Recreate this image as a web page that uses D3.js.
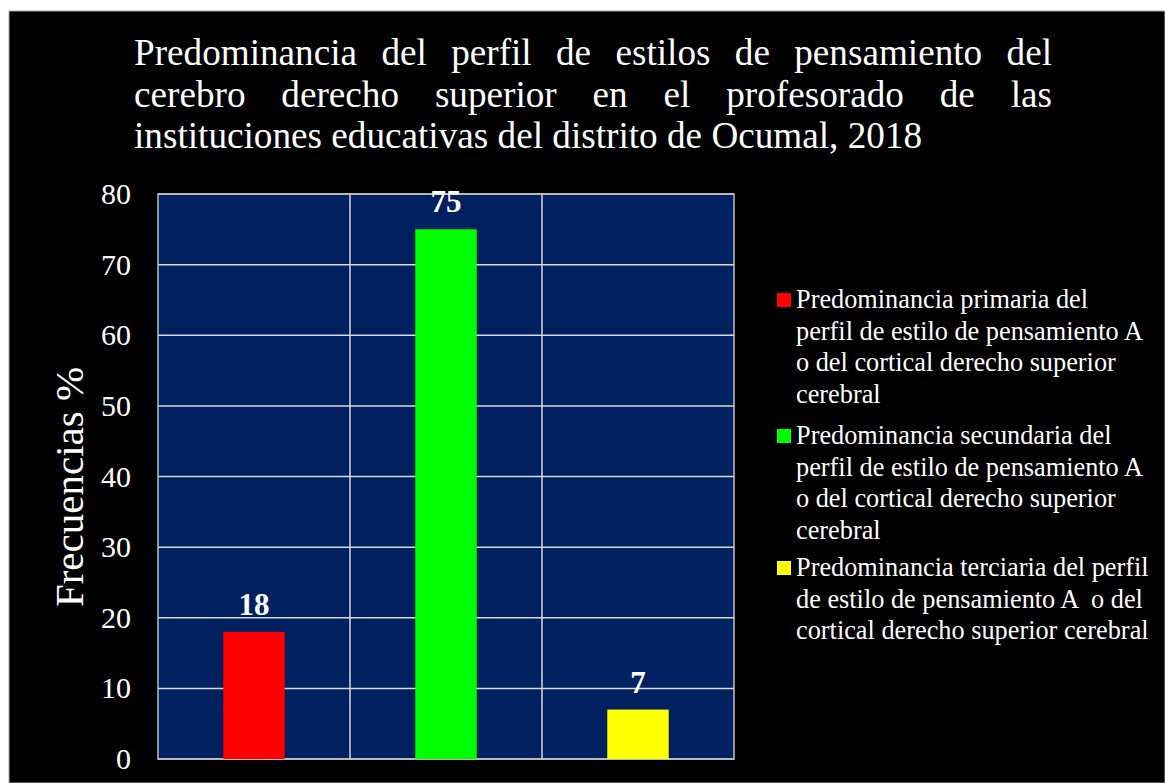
<!DOCTYPE html>
<html>
<head>
<meta charset="utf-8">
<script src="https://cdn.jsdelivr.net/npm/d3@7"></script>
<style>
  html, body { margin: 0; padding: 0; background: #fff; }
  svg text { font-family: "Liberation Serif", "Times New Roman", serif; }
</style>
</head>
<body>
<div id="graph"></div>
<script>
const categories = ["primaria", "secundaria", "terciaria"];
const values = [18, 75, 7];
const barColors = ["#ff0000", "#00ff00", "#ffff00"];
const yTicks = [0, 10, 20, 30, 40, 50, 60, 70, 80];
const titleLines = [
    "Predominancia del perfil de estilos de pensamiento del",
    "cerebro derecho superior en el profesorado de las",
    "instituciones educativas del distrito de Ocumal, 2018"
];
const legendLines = [
    ["Predominancia primaria del", "perfil de estilo de pensamiento A", "o del cortical derecho superior", "cerebral"],
    ["Predominancia secundaria del", "perfil de estilo de pensamiento A", "o del cortical derecho superior", "cerebral"],
    ["Predominancia terciaria del perfil", "de estilo de pensamiento A  o del", "cortical derecho superior cerebral"]
];
const yTitle = "Frecuencias %";

const width = 1165, height = 783;
const plot = { left: 158, top: 194, right: 734, bottom: 759 };

const svg = d3.select("#graph").append("svg")
    .attr("width", width)
    .attr("height", height);

// background frame
svg.append("rect")
    .attr("x", 9).attr("y", 11)
    .attr("width", width - 9).attr("height", height - 11)
    .attr("fill", "#000")
    .attr("stroke", "#a6a6a6")
    .attr("stroke-width", 1);

const xScale = d3.scaleBand()
    .domain(categories)
    .range([plot.left, plot.right]);

const yScale = d3.scaleLinear()
    .domain([0, 80])
    .range([plot.bottom, plot.top]);

// plot area
svg.append("rect")
    .attr("x", plot.left).attr("y", plot.top)
    .attr("width", plot.right - plot.left)
    .attr("height", plot.bottom - plot.top)
    .attr("fill", "#002060");

// horizontal grid
svg.append("g")
    .selectAll("line")
    .data(yTicks)
    .enter().append("line")
    .attr("x1", plot.left).attr("x2", plot.right)
    .attr("y1", d => yScale(d)).attr("y2", d => yScale(d))
    .attr("stroke", "#d9d9d9")
    .attr("stroke-width", 1.5);

// vertical grid at category boundaries
svg.append("g")
    .selectAll("line")
    .data(categories.slice(1))
    .enter().append("line")
    .attr("x1", d => xScale(d)).attr("x2", d => xScale(d))
    .attr("y1", plot.top).attr("y2", plot.bottom)
    .attr("stroke", "#d9d9d9")
    .attr("stroke-width", 1.5);

// plot border
svg.append("rect")
    .attr("x", plot.left).attr("y", plot.top)
    .attr("width", plot.right - plot.left)
    .attr("height", plot.bottom - plot.top)
    .attr("fill", "none")
    .attr("stroke", "#bfbfbf")
    .attr("stroke-width", 1.5);

// y axis labels
const yAxis = d3.axisLeft(yScale)
    .tickValues(yTicks)
    .tickSize(0)
    .tickPadding(27);
const yG = svg.append("g")
    .attr("transform", "translate(" + plot.left + ",0)")
    .call(yAxis);
yG.select(".domain").remove();
yG.selectAll("text")
    .attr("fill", "#fff")
    .attr("font-size", 30)
    .attr("font-family", "Liberation Serif, Times New Roman, serif");

// y title
svg.append("text")
    .attr("transform", "translate(83,487) rotate(-90)")
    .attr("text-anchor", "middle")
    .attr("fill", "#fff")
    .attr("font-size", 41)
    .text(yTitle);

// bars
const barWidth = xScale.bandwidth() * 0.32;
svg.append("g")
    .selectAll("rect")
    .data(values)
    .enter().append("rect")
    .attr("x", (d, i) => xScale(categories[i]) + xScale.bandwidth() / 2 - barWidth / 2)
    .attr("y", d => yScale(d))
    .attr("width", barWidth)
    .attr("height", d => yScale(0) - yScale(d))
    .attr("fill", (d, i) => barColors[i]);

// value labels
svg.append("g")
    .selectAll("text")
    .data(values)
    .enter().append("text")
    .attr("x", (d, i) => xScale(categories[i]) + xScale.bandwidth() / 2)
    .attr("y", d => yScale(d) - 17)
    .attr("text-anchor", "middle")
    .attr("fill", "#fff")
    .attr("font-size", 31)
    .attr("font-weight", "bold")
    .text(d => d);

// title, justified except the last line
const titleLeft = 134, titleRight = 1052;
titleLines.forEach((line, li) => {
    const y = 65 + li * 41.5;
    const words = line.split(" ");
    const g = svg.append("g");
    const nodes = words.map(w => g.append("text")
        .attr("y", y)
        .attr("fill", "#fff")
        .attr("font-size", 37.2)
        .text(w));
    const widths = nodes.map(n => n.node().getComputedTextLength());
    const total = d3.sum(widths);
    const last = li === titleLines.length - 1;
    const space = last ? 37.2 * 0.25 : (titleRight - titleLeft - total) / (words.length - 1);
    let x = titleLeft;
    nodes.forEach((n, i) => {
        n.attr("x", x);
        x += widths[i] + space;
    });
});

// legend
const legendStarts = [308, 444, 576];
legendLines.forEach((lines, i) => {
    const g = svg.append("g");
    g.append("rect")
        .attr("x", 777).attr("y", legendStarts[i] - 15)
        .attr("width", 14).attr("height", 14)
        .attr("fill", barColors[i]);
    lines.forEach((t, j) => {
        g.append("text")
            .attr("x", 796)
            .attr("y", legendStarts[i] + j * 31.5)
            .attr("fill", "#fff")
            .attr("font-size", 26.3)
            .style("white-space", "pre")
            .text(t);
    });
});
</script>
</body>
</html>
